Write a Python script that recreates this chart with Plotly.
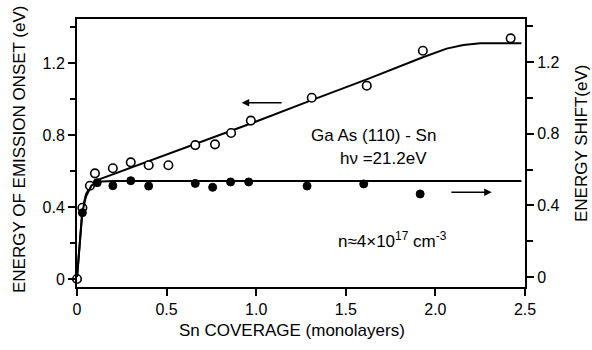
import plotly.graph_objects as go

# Open circles: energy of emission onset (left axis)
onset_x = [0.0, 0.03, 0.072, 0.10, 0.20, 0.30, 0.40, 0.51, 0.66, 0.77, 0.86, 0.97, 1.31, 1.617, 1.93, 2.42]
onset_y = [0.0, 0.396, 0.518, 0.587, 0.615, 0.648, 0.632, 0.632, 0.744, 0.748, 0.811, 0.88, 1.007, 1.074, 1.268, 1.337]

# Filled circles: energy shift (right axis)
shift_x = [0.03, 0.113, 0.20, 0.30, 0.40, 0.66, 0.757, 0.857, 0.958, 1.284, 1.60, 1.915]
shift_y = [0.359, 0.527, 0.510, 0.538, 0.508, 0.523, 0.501, 0.531, 0.531, 0.508, 0.520, 0.464]

# Guide curves
fit_onset_x = [0.0, 0.015, 0.03, 0.05, 0.08, 0.12, 0.5, 1.0, 1.31, 1.617, 1.93, 2.0, 2.063, 2.156, 2.25, 2.35, 2.48]
fit_onset_y = [0.0, 0.2, 0.385, 0.47, 0.525, 0.552, 0.69, 0.875, 0.994, 1.109, 1.232, 1.258, 1.28, 1.30, 1.309, 1.31, 1.31]
fit_shift_x = [0.0, 0.015, 0.03, 0.05, 0.08, 0.11, 0.2, 2.48]
fit_shift_y = [0.0, 0.2, 0.365, 0.45, 0.51, 0.532, 0.536, 0.536]

x_ticks = [0, 0.5, 1.0, 1.5, 2.0, 2.5]
x_ticktext = ["0", "0.5", "1.0", "1.5", "2.0", "2.5"]
y_ticks = [0, 0.4, 0.8, 1.2]
y_ticktext = ["0", "0.4", "0.8", "1.2"]

FONT = "Liberation Sans, Arial, sans-serif"
TICK = 16
TXT = 17

fig = go.Figure()
fig.add_trace(go.Scatter(x=fit_onset_x, y=fit_onset_y, mode="lines",
                         line=dict(color="black", width=2), yaxis="y", cliponaxis=False))
fig.add_trace(go.Scatter(x=fit_shift_x, y=fit_shift_y, mode="lines",
                         line=dict(color="black", width=2), yaxis="y2", cliponaxis=False))
fig.add_trace(go.Scatter(x=shift_x, y=shift_y, mode="markers", yaxis="y2", cliponaxis=False,
                         marker=dict(symbol="circle", size=8, color="black",
                                     line=dict(color="black", width=1))))
fig.add_trace(go.Scatter(x=onset_x, y=onset_y, mode="markers", yaxis="y", cliponaxis=False,
                         marker=dict(symbol="circle", size=8.5, color="white",
                                     line=dict(color="black", width=1.6))))

f = dict(size=TXT, family=FONT, color="black")
ann = []
ann.append(dict(x=1.652, y=0.80, xref="x", yref="y", text="Ga As (110) - Sn", showarrow=False, font=f,
                xanchor="center", yanchor="middle"))
ann.append(dict(x=1.713, y=0.672, xref="x", yref="y", text="hν =21.2eV", showarrow=False, font=f,
                xanchor="center", yanchor="middle"))
ann.append(dict(x=1.758, y=0.217, xref="x", yref="y", text="n≈4×10<sup>17</sup> cm<sup>-3</sup>",
                showarrow=False, font=f, xanchor="center", yanchor="middle"))
# arrows
ann.append(dict(x=0.919, y=0.979, ax=1.15, ay=0.979, xref="x", yref="y", axref="x", ayref="y",
                text="", showarrow=True, arrowhead=2, arrowsize=1, arrowwidth=1.5, arrowcolor="black"))
ann.append(dict(x=2.314, y=0.482, ax=2.081, ay=0.482, xref="x", yref="y", axref="x", ayref="y",
                text="", showarrow=True, arrowhead=2, arrowsize=1, arrowwidth=1.5, arrowcolor="black"))
# axis titles (pixel positions converted to paper coordinates below)
ann.append(dict(x=19, y=150, xref="paper", yref="paper", text="ENERGY OF EMISSION ONSET (eV)",
                showarrow=False, textangle=-90, font=f, xanchor="center", yanchor="middle"))
ann.append(dict(x=292, y=330, xref="paper", yref="paper", text="Sn COVERAGE (monolayers)",
                showarrow=False, font=f, xanchor="center", yanchor="middle"))
ann.append(dict(x=581, y=144, xref="paper", yref="paper", text="ENERGY SHIFT(eV)",
                showarrow=False, textangle=-90, font=f, xanchor="center", yanchor="middle"))

L, R, T, B = 77, 67, 19, 63
W, H = 592, 350
pw, ph = W - L - R, H - T - B
for a in ann:
    if a.get("xref") == "paper":
        a["x"] = (a["x"] - L) / pw
        a["y"] = 1 - (a["y"] - T) / ph

axis_common = dict(ticks="outside", ticklen=7, tickwidth=1.5, tickcolor="black", showline=True,
                   linecolor="black", linewidth=2, showgrid=False, zeroline=False,
                   tickfont=dict(size=TICK, family=FONT, color="black"))

fig.update_layout(
    width=W, height=H,
    margin=dict(l=L, r=R, t=T, b=B, pad=0),
    paper_bgcolor="white", plot_bgcolor="white",
    showlegend=False,
    font=dict(family=FONT, size=TICK, color="black"),
    annotations=ann,
    xaxis=dict(range=[0, 2.5], tickvals=x_ticks, ticktext=x_ticktext, mirror=True, **axis_common),
    yaxis=dict(range=[-0.0444, 1.4444], tickvals=y_ticks, ticktext=y_ticktext,
               minor=dict(tickvals=[0.2, 0.6, 1.0, 1.4], ticks="outside", ticklen=5,
                          tickwidth=1.5, tickcolor="black"), **axis_common),
    yaxis2=dict(range=[-0.0559, 1.4413], overlaying="y", side="right", tickvals=y_ticks,
                ticktext=y_ticktext,
                minor=dict(tickvals=[0.2, 0.6, 1.0, 1.4], ticks="outside", ticklen=6,
                           tickwidth=1.5, tickcolor="black"), **axis_common),
)

fig.write_html("out.html")
